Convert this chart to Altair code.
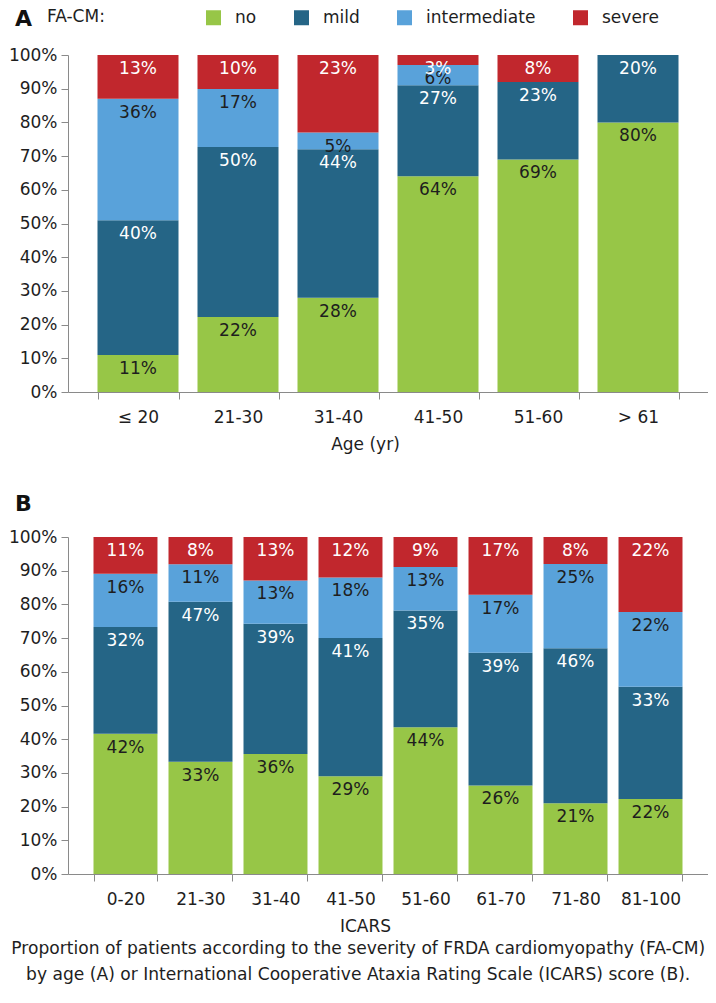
import altair as alt
import pandas as pd

# ---------------- data ----------------
series = ["no", "mild", "intermediate", "severe"]
series_colors = ["#97C647", "#256586", "#59A2DA", "#C1272D"]

age_groups = ["≤ 20", "21-30", "31-40", "41-50", "51-60", "> 61"]
age_no = [11, 22, 28, 64, 69, 80]
age_mild = [40, 50, 44, 27, 23, 20]
age_intermediate = [36, 17, 5, 6, 0, 0]
age_severe = [13, 10, 23, 3, 8, 0]

icars_groups = ["0-20", "21-30", "31-40", "41-50", "51-60", "61-70", "71-80", "81-100"]
icars_no = [42, 33, 36, 29, 44, 26, 21, 22]
icars_mild = [32, 47, 39, 41, 35, 39, 46, 33]
icars_intermediate = [16, 11, 13, 18, 13, 17, 25, 22]
icars_severe = [11, 8, 13, 12, 9, 17, 8, 22]

y_tick_values = [0.0, 0.1, 0.2, 0.3, 0.4, 0.5, 0.6, 0.7, 0.8, 0.9, 1.0]

caption_lines = [
    "Proportion of patients according to the severity of FRDA cardiomyopathy (FA-CM)",
    "by age (A) or International Cooperative Ataxia Rating Scale (ICARS) score (B).",
]

FONT = "DejaVu Sans"
TXT = "#1e1e1e"
AXC = "#8a8a8a"


def long_table(groups, cols):
    rows = []
    for i, g in enumerate(groups):
        for k, s in enumerate(series):
            rows.append({"cat": g, "series": s, "order": k, "value": cols[k][i]})
    return pd.DataFrame(rows)


def panel(df, cats, xtitle, letter, pad_inner, pad_outer, show_legend, title_offset):
    base = alt.Chart(df).transform_stack(
        stack="value",
        groupby=["cat"],
        as_=["y0", "y1"],
        offset="normalize",
        sort=[alt.SortField("order", order="ascending")],
    )
    xscale = alt.Scale(paddingInner=pad_inner, paddingOuter=pad_outer)
    xaxis = alt.Axis(
        title=xtitle,
        labelAngle=0,
        tickBand="extent",
        tickSize=7,
        tickColor=AXC,
        domainColor=AXC,
        labelFont=FONT,
        labelFontSize=17,
        labelColor=TXT,
        labelPadding=10,
        titleFont=FONT,
        titleFontSize=17,
        titleFontWeight="normal",
        titleColor=TXT,
        titlePadding=11,
        titleX=297,
    )
    yscale = alt.Scale(domain=[0, 1], nice=False)
    yaxis = alt.Axis(
        values=y_tick_values,
        format="%",
        title=None,
        grid=False,
        tickSize=7,
        tickColor=AXC,
        domainColor=AXC,
        labelFont=FONT,
        labelFontSize=17,
        labelColor=TXT,
        labelPadding=4,
    )
    if show_legend:
        legend = alt.Legend(
            orient="none",
            legendX=-21,
            legendY=-46,
            direction="horizontal",
            title="FA-CM:",
            titleOrient="left",
            titlePadding=100,
            titleFont=FONT,
            titleFontSize=17,
            titleFontWeight="normal",
            titleColor=TXT,
            labelFont=FONT,
            labelFontSize=17,
            labelColor=TXT,
            labelOffset=13,
            symbolType="square",
            symbolSize=225,
            symbolStrokeWidth=0,
            columnPadding=36,
            padding=0,
        )
    else:
        legend = None
    bars = base.mark_bar().encode(
        x=alt.X("cat:N", sort=cats, scale=xscale, axis=xaxis),
        y=alt.Y("y0:Q", scale=yscale, axis=yaxis),
        y2="y1:Q",
        color=alt.Color(
            "series:N",
            scale=alt.Scale(domain=series, range=series_colors),
            legend=legend,
        ),
    )
    labels = (
        base.transform_filter("datum.value > 0")
        .transform_calculate(
            lbl="datum.value + '%'",
            tc="(datum.series == 'mild' || datum.series == 'severe') ? '#ffffff' : '#1e1e1e'",
        )
        .mark_text(baseline="top", dy=6, font=FONT, fontSize=17)
        .encode(
            x=alt.X("cat:N", sort=cats, scale=xscale, axis=xaxis),
            y=alt.Y("y1:Q", scale=yscale, axis=yaxis),
            text="lbl:N",
            color=alt.Color("tc:N", scale=None),
        )
    )
    return alt.layer(bars, labels).properties(
        width=640,
        height=337,
        title=alt.TitleParams(
            letter,
            anchor="start",
            frame="group",
            dx=-53,
            offset=title_offset,
            font=FONT,
            fontSize=22,
            fontWeight="bold",
            color="#111111",
        ),
    )


dfA = long_table(age_groups, [age_no, age_mild, age_intermediate, age_severe])
dfB = long_table(icars_groups, [icars_no, icars_mild, icars_intermediate, icars_severe])

chartA = panel(dfA, age_groups, "Age (yr)", "A", 0.19, 0.295, True, -22)
chartB = panel(dfB, icars_groups, "ICARS", "B", 0.147, 0.34, False, 12)

chart = (
    alt.vconcat(chartA, chartB, spacing=41)
    .resolve_scale(color="independent")
    .properties(
        padding={"left": 0, "top": 0, "right": 0, "bottom": 0},
        title=alt.TitleParams(
            caption_lines,
            orient="bottom",
            anchor="middle",
            font=FONT,
            fontSize=17.1,
            fontWeight="normal",
            lineHeight=26,
            color=TXT,
            offset=6,
        ),
    )
    .configure_view(stroke=None)
)

chart.save("out.html", embed_options={"renderer": "svg", "actions": False})
